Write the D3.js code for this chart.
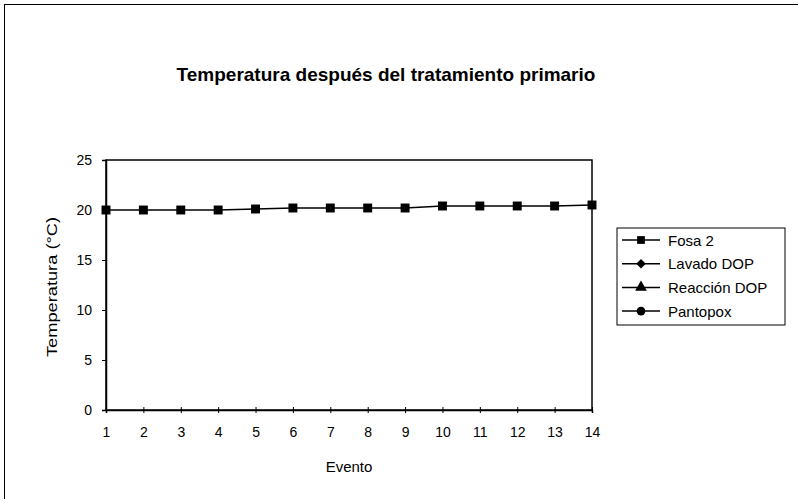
<!DOCTYPE html>
<html><head><meta charset="utf-8">
<script src="https://cdn.jsdelivr.net/npm/d3@7"></script>
<style>body{margin:0;background:#fff}svg{display:block}text{font-family:"Liberation Sans",Arial,sans-serif;fill:#000}</style>
</head><body>
<script>
const eventos = [1,2,3,4,5,6,7,8,9,10,11,12,13,14];
const fosa2 = [20.0,20.0,20.0,20.0,20.1,20.2,20.2,20.2,20.2,20.4,20.4,20.4,20.4,20.5];
const yTicks = [0,5,10,15,20,25];
const seriesNames = ["Fosa 2","Lavado DOP","Reacción DOP","Pantopox"];
const seriesSymbols = [d3.symbolSquare, d3.symbolSquare, d3.symbolTriangle, d3.symbolCircle];
const seriesRot = [0,45,0,0];

const W=798,H=499;
const svg=d3.select("body").append("svg").attr("width",W).attr("height",H);
svg.append("line").attr("x1",4).attr("x2",798).attr("y1",4.5).attr("y2",4.5).attr("stroke","#000").attr("stroke-width",1);
svg.append("line").attr("x1",4.5).attr("x2",4.5).attr("y1",4).attr("y2",499).attr("stroke","#000").attr("stroke-width",1);

const L=106,R=592,T=160,B=410;
const x=d3.scaleLinear().domain([1,14]).range([L,R]);
const y=d3.scaleLinear().domain([0,25]).range([B,T]);

svg.append("text").attr("x",386).attr("y",81).attr("text-anchor","middle")
  .style("font-size","19px").style("font-weight","bold").text("Temperatura después del tratamiento primario");

svg.append("rect").attr("x",L).attr("y",T).attr("width",R-L).attr("height",B-T)
  .attr("fill","none").attr("stroke","#000").attr("stroke-width",1.5);

const ya=svg.append("g").attr("transform",`translate(${L},0)`)
  .call(d3.axisLeft(y).tickValues(yTicks).tickSize(4).tickPadding(10));
ya.select(".domain").attr("stroke-width",1.5);
ya.selectAll("text").style("font-size","14px").style("font-family","'Liberation Sans',Arial,sans-serif");

const xa=svg.append("g").attr("transform",`translate(0,${B})`)
  .call(d3.axisBottom(x).tickValues(eventos).tickSize(3).tickPadding(14).tickFormat(d3.format("d")));
xa.select(".domain").attr("stroke-width",1.5);
xa.selectAll(".tick line").attr("y1",-3);
xa.selectAll("text").style("font-size","14px").style("font-family","'Liberation Sans',Arial,sans-serif");

svg.append("text").attr("transform",`translate(57,${(T+B)/2+2}) rotate(-90)`).attr("text-anchor","middle")
  .attr("textLength",140).attr("lengthAdjust","spacingAndGlyphs")
  .style("font-size","15px").text("Temperatura (°C)");
svg.append("text").attr("x",349).attr("y",472).attr("text-anchor","middle")
  .style("font-size","15px").text("Evento");

const line=d3.line().x((d,i)=>x(eventos[i])).y(d=>y(d));
svg.append("path").datum(fosa2).attr("d",line).attr("fill","none").attr("stroke","#000").attr("stroke-width",1.5);
svg.selectAll(".pt").data(fosa2).enter().append("path")
  .attr("transform",(d,i)=>`translate(${x(eventos[i])},${y(d)})`)
  .attr("d",d3.symbol(d3.symbolSquare,80)).attr("fill","#000");

const lg=svg.append("g");
lg.append("rect").attr("x",617).attr("y",228).attr("width",168).attr("height",97).attr("fill","#fff").attr("stroke","#000");
seriesNames.forEach((n,i)=>{
  const cy=240+i*23.7;
  lg.append("line").attr("x1",622).attr("x2",660).attr("y1",cy).attr("y2",cy).attr("stroke","#000").attr("stroke-width",1.5);
  lg.append("path").attr("transform",`translate(641,${cy}) rotate(${seriesRot[i]})`).attr("d",d3.symbol(seriesSymbols[i],i==1?45:60)).attr("fill","#000");
  lg.append("text").attr("x",668).attr("y",cy+5.5).style("font-size","15px").text(n);
});
</script>
</body></html>
